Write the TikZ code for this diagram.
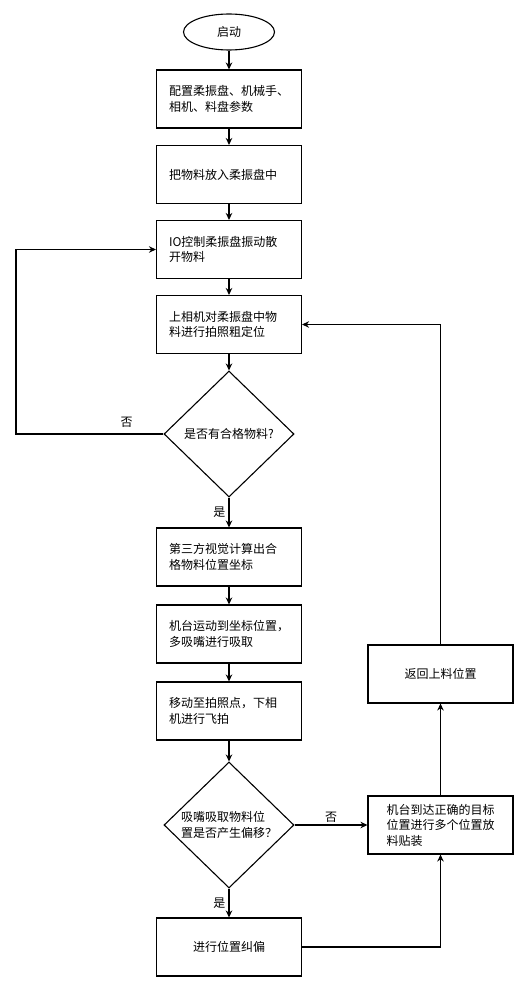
\documentclass[tikz,border=0pt]{standalone}
\usepackage{fontspec}
\setmainfont{Noto Sans CJK SC}
\usetikzlibrary{shapes.geometric,arrows.meta}

\begin{document}
\begin{tikzpicture}[
    x=1pt, y=-1pt,
    every node/.style={font=\fontsize{12}{15.5}\selectfont},
    terminal/.style={ellipse, draw, line width=1.1pt, minimum width=91pt, minimum height=36pt, inner sep=0pt},
    stepbox/.style={rectangle, draw, line width=1.1pt, minimum width=145pt, minimum height=58pt, inner sep=0pt, align=left, text width=120pt},
    decision/.style={diamond, aspect=1, draw, line width=1.1pt, minimum width=130pt, minimum height=126pt, inner sep=0pt},
    flow/.style={draw, line width=1.1pt, -{Stealth[length=7pt,width=6.5pt]}},
    tag/.style={inner sep=1pt}
  ]
    \useasboundingbox (0,0) rectangle (527,982);

    % 主流程
    \node[terminal] (start) at (229,32) {启动};
    \node[stepbox] (b1) at (229,99) {配置柔振盘、机械手、\\相机、料盘参数};
    \node[stepbox] (b2) at (229,174.5) {把物料放入柔振盘中};
    \node[stepbox] (b3) at (229,249.5) {IO控制柔振盘振动散\\开物料};
    \node[stepbox] (b4) at (229,324.5) {上相机对柔振盘中物\\料进行拍照粗定位};
    \node[decision, align=center] (d1) at (229,434) {是否有合格物料?};
    \node[stepbox] (b5) at (229,557) {第三方视觉计算出合\\格物料位置坐标};
    \node[stepbox] (b6) at (229,634) {机台运动到坐标位置，\\多吸嘴进行吸取};
    \node[stepbox] (b7) at (229,711) {移动至拍照点，下相\\机进行飞拍};
    \node[decision, align=left] (d2) at (229,825) {吸嘴吸取物料位\\置是否产生偏移？};
    \node[stepbox, align=center] (b8) at (229,947) {进行位置纠偏};

    % 右侧
    \node[stepbox, text width=108pt] (place) at (440.5,825) {机台到达正确的目标\\位置进行多个位置放\\料贴装};
    \node[stepbox, align=center] (back) at (440.5,674) {返回上料位置};

    \coordinate (loopc) at (16,434);

    % 连线
    \draw[flow] (start) -- (b1);
    \draw[flow] (b1) -- (b2);
    \draw[flow] (b2) -- (b3);
    \draw[flow] (b3) -- (b4);
    \draw[flow] (b4) -- (d1);
    \draw[flow] (d1.west) -- node[tag, above=5pt, pos=0.25] (no1) {否} (loopc) |- (b3.west);
    \draw[flow] (d1) -- node[tag, left=2pt] (yes1) {是} (b5);
    \draw[flow] (b5) -- (b6);
    \draw[flow] (b6) -- (b7);
    \draw[flow] (b7) -- (d2);
    \draw[flow] (d2) -- node[tag, left=2pt] (yes2) {是} (b8);
    \draw[flow] (d2.east) -- node[tag, above=1pt] (no2) {否} (place.west);
    \draw[flow] (b8.east) -| (place.south);
    \draw[flow] (place) -- (back);
    \draw[flow] (back.north) |- (b4.east);
\end{tikzpicture}
\end{document}
